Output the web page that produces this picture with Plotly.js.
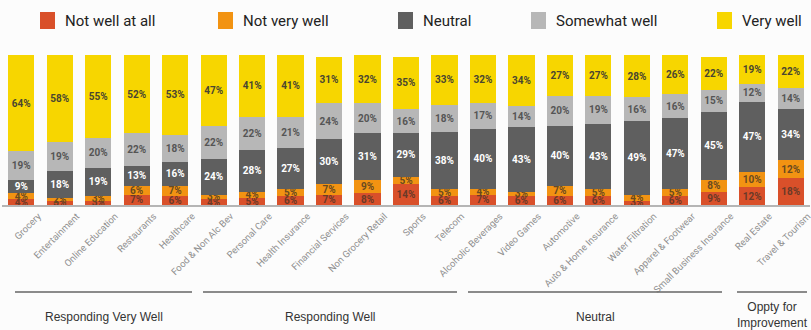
<!DOCTYPE html>
<html>
<head>
<meta charset="utf-8">
<script src="https://cdn.plot.ly/plotly-3.0.1.min.js"></script>
<style>html,body{margin:0;padding:0;background:#fcfcfc;}</style>
</head>
<body>
<div id="chart" style="width:811px;height:330px;"></div>
<script>
const categories = ["Grocery","Entertainment","Online Education","Restaurants","Healthcare",
  "Food & Non Alc Bev","Personal Care","Health Insurance","Financial Services","Non Grocery Retail",
  "Sports","Telecom","Alcoholic Beverages","Video Games","Automotive","Auto & Home Insurance",
  "Water Filtration","Apparel & Footwear","Small Business Insurance","Real Estate","Travel & Tourism"];
const seriesNames = ["Not well at all","Not very well","Neutral","Somewhat well","Very well"];
const notWellAtAll = [4,3,3,7,6,4,5,6,7,8,14,6,7,6,6,6,3,6,9,12,18];
const notVeryWell  = [4,2,3,6,7,3,4,5,7,9,5,5,4,3,7,5,4,5,8,10,12];
const neutral      = [9,18,19,13,16,24,28,27,30,31,29,38,40,43,40,43,49,47,45,47,34];
const somewhatWell = [19,19,20,22,18,22,22,21,24,20,16,18,17,14,20,19,16,16,15,12,14];
const veryWell     = [64,58,55,52,53,47,41,41,31,32,35,33,32,34,27,27,28,26,22,19,22];
const groupNames = ["Responding Very Well","Responding Well","Neutral","Oppty for<br>Improvement"];

const colors = ["#d9502a","#f29312","#5f5f5f","#b7b7b7","#f7d600"];
const textColors = ["#6a3a28","#6a4a20","#ffffff","#555555","#4a4630"];
const values = [notWellAtAll, notVeryWell, neutral, somewhatWell, veryWell];

const condensed = "Liberation Sans Narrow, Roboto, sans-serif";

const traces = values.map((v, i) => ({
  type: "bar",
  name: seriesNames[i],
  x: categories,
  y: v,
  marker: {color: colors[i]},
  texttemplate: "%{y}%",
  textposition: "inside",
  insidetextanchor: "middle",
  textangle: 0,
  textfont: {family: condensed, size: 10, color: textColors[i], weight: "bold"},
  hoverinfo: "skip",
  showlegend: false
}));

const W = 811, H = 330;
const ml = 2, mr = 1, mt = 55, mb = 125;
const pw = W - ml - mr, ph = H - mt - mb;
const px = x => (x - ml) / pw;
const py = y => (H - mb - y) / ph;

const shapes = [];
const annotations = [];
// legend (drawn manually)
const legendSquares = [40, 218, 398, 531, 717];
seriesNames.forEach((n, i) => {
  shapes.push({type: "rect", xref: "paper", yref: "paper",
    x0: px(legendSquares[i]), x1: px(legendSquares[i] + 15),
    y0: py(29), y1: py(12), fillcolor: colors[i], line: {width: 0}});
  annotations.push({xref: "paper", yref: "paper", x: px(legendSquares[i] + 23), y: py(21),
    xanchor: "left", yanchor: "middle", showarrow: false, text: n,
    font: {family: condensed, size: 15, color: "#222"}});
});
// group lines and labels
const groupLines = [[15,192],[203,457],[468,722],[737,807]];
const groupLabelY = [317, 317, 317, 315];
groupNames.forEach((g, i) => {
  const [a, b] = groupLines[i];
  shapes.push({type: "line", xref: "paper", yref: "paper",
    x0: px(a), x1: px(b), y0: py(292), y1: py(292), line: {color: "#666", width: 1.5}});
  annotations.push({xref: "paper", yref: "paper", x: px((a + b) / 2), y: py(groupLabelY[i]),
    xanchor: "center", yanchor: "middle", showarrow: false, text: g,
    font: {family: "Liberation Sans, Arial, sans-serif", size: 12, color: "#333"}});
});

const layout = {
  width: W, height: H,
  margin: {l: ml, r: mr, t: mt, b: mb, pad: 0},
  paper_bgcolor: "#fcfcfc",
  plot_bgcolor: "#fcfcfc",
  barmode: "stack",
  bargap: 0.32,
  showlegend: false,
  uniformtext: {minsize: 10, mode: "show"},
  xaxis: {
    type: "category",
    range: [-0.5, 20.5],
    showline: true, linecolor: "#b5b5b5", linewidth: 2,
    showgrid: false, zeroline: false,
    ticks: "",
    tickangle: -45,
    ticklabelshift: 17,
    tickfont: {family: condensed, size: 9.5, color: "#8f8f8f"},
    automargin: false,
    fixedrange: true
  },
  yaxis: {
    range: [0, 100],
    visible: false,
    fixedrange: true
  },
  shapes: shapes,
  annotations: annotations
};

Plotly.newPlot("chart", traces, layout, {displayModeBar: false, staticPlot: true});
</script>
</body>
</html>
